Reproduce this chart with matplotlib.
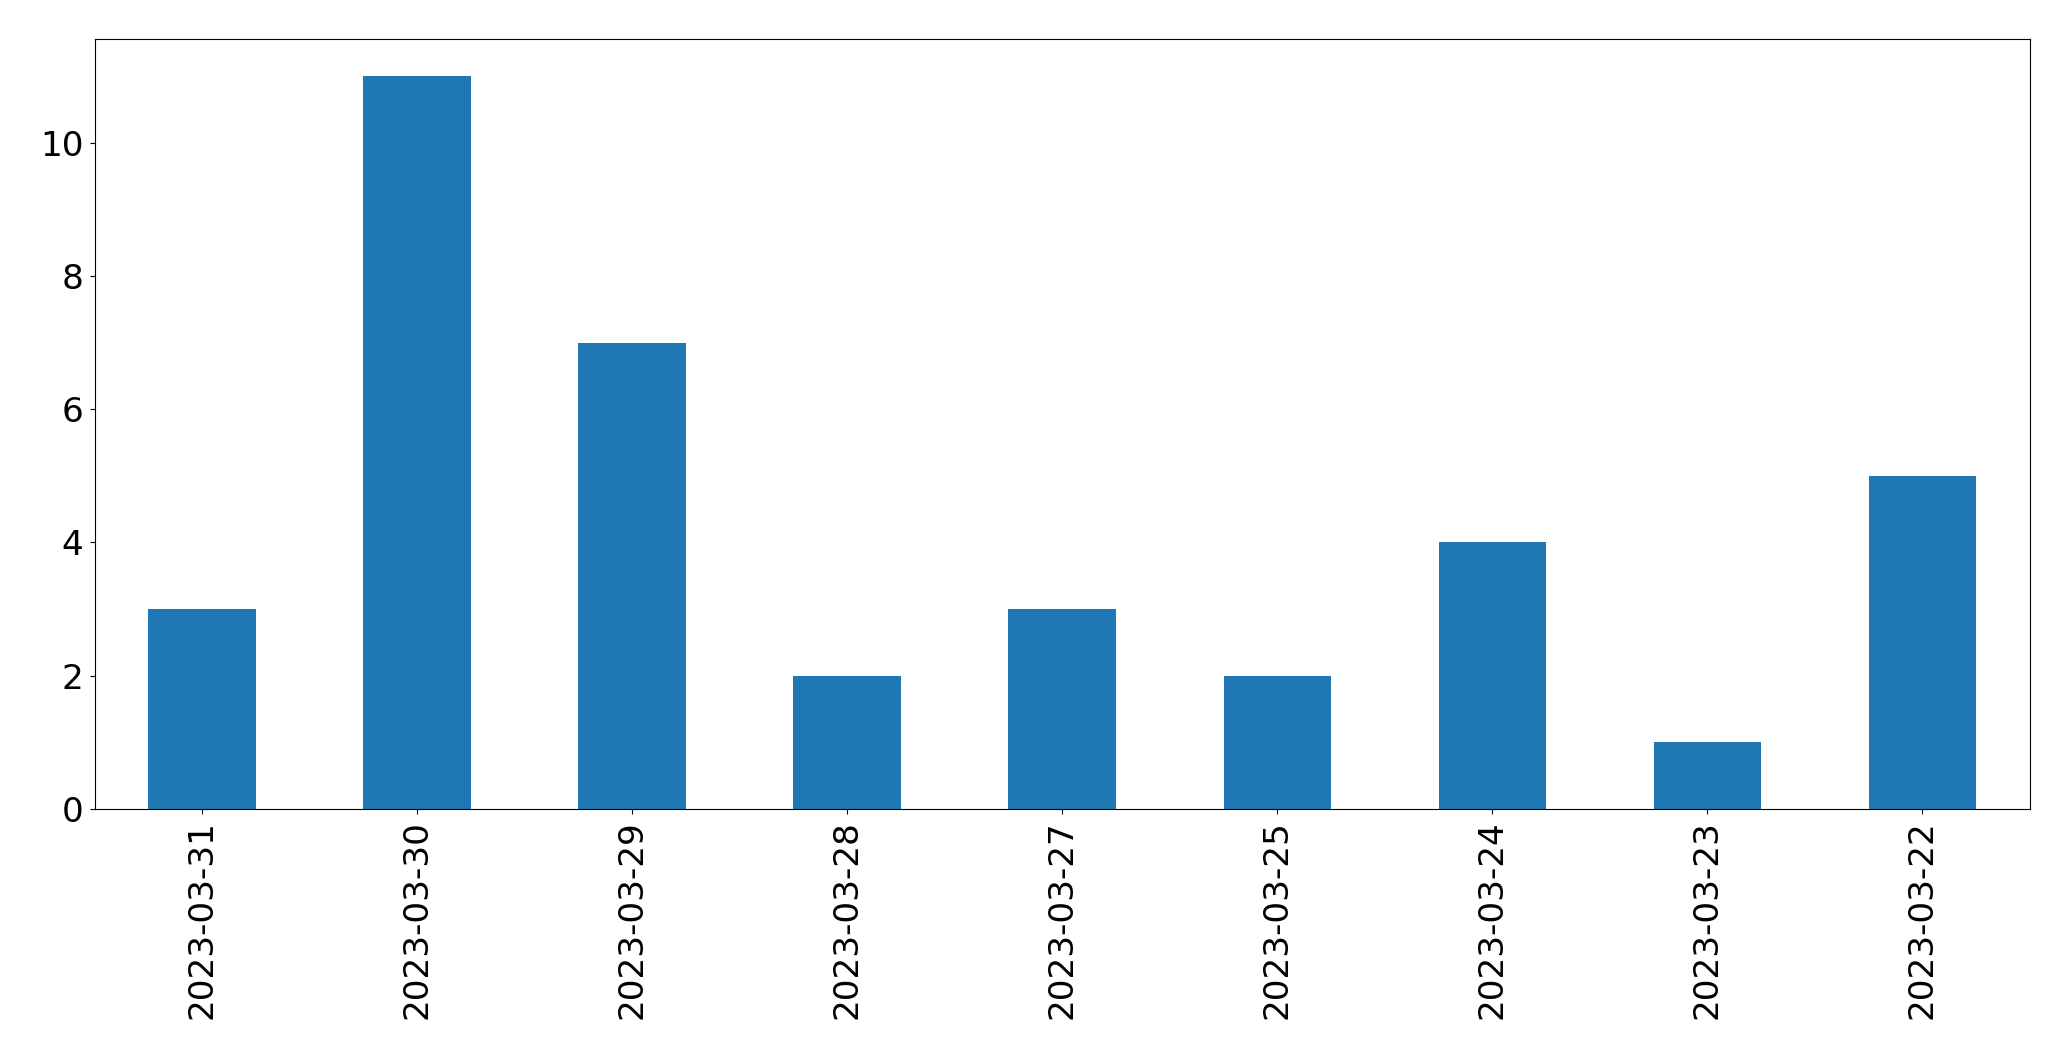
import matplotlib
matplotlib.use("Agg")
import matplotlib.pyplot as plt
import numpy as np

# Daily counts, in the order shown on the chart
dates = ["2023-03-31", "2023-03-30", "2023-03-29", "2023-03-28", "2023-03-27",
         "2023-03-25", "2023-03-24", "2023-03-23", "2023-03-22"]
counts = [3, 11, 7, 2, 3, 2, 4, 1, 5]

fig = plt.figure(figsize=(20.71, 10.61), dpi=100)
ax = fig.add_axes([94.5 / 2071, 1 - 809 / 1061, (2030 - 94.5) / 2071, (809 - 39.3) / 1061])

x = np.arange(len(dates))
ax.bar(x, counts, width=0.5, color="#1f77b4")
ax.set_xlim(-0.5, len(dates) - 0.5)
ax.set_ylim(0, max(counts) * 1.05)
ax.set_xticks(x)
ax.set_xticklabels(dates, rotation=90)
ax.tick_params(axis="both", labelsize=24.7, length=3.9, pad=4.0)

fig.savefig("out.png", dpi=100)
